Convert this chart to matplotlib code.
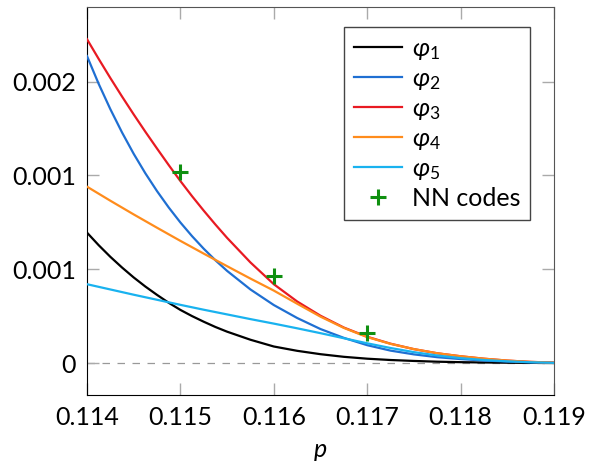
import numpy as np
import matplotlib
matplotlib.use('Agg')
import matplotlib.pyplot as plt

plt.rcParams['font.family'] = ['Lato', 'DejaVu Sans']
plt.rcParams['mathtext.fontset'] = 'custom'
plt.rcParams['mathtext.rm'] = 'Lato'
plt.rcParams['mathtext.it'] = 'Lato:italic'

# valores (en unidades de 1e-3)
p = [0.114000, 0.114125, 0.114250, 0.114375, 0.114500, 0.114625, 0.114750,
     0.114875, 0.115000, 0.115125, 0.115250, 0.115375, 0.115500, 0.11575,
     0.11600, 0.11625, 0.11650, 0.11675, 0.11700, 0.11725, 0.11750, 0.11775,
     0.11800, 0.11825, 0.11850, 0.11875, 0.11900]
phi1 = [0.695, 0.628, 0.566, 0.509, 0.456, 0.4075, 0.363,
        0.321, 0.283, 0.250, 0.220, 0.192, 0.167, 0.124,
        0.088, 0.065, 0.047, 0.033, 0.023, 0.016, 0.011, 0.007,
        0.0045, 0.0028, 0.0016, 0.0007, 0.0001]
phi2 = [1.636, 1.488, 1.353, 1.229, 1.115, 1.011, 0.916,
        0.829, 0.749, 0.676, 0.609, 0.5475, 0.491, 0.392,
        0.309, 0.240, 0.181, 0.134, 0.095, 0.066, 0.046, 0.031,
        0.021, 0.013, 0.008, 0.004, 0.001]
phi3 = [1.726, 1.621, 1.519, 1.4205, 1.325, 1.2325, 1.143,
        1.055, 0.970, 0.889, 0.812, 0.738, 0.667, 0.536,
        0.420, 0.328, 0.252, 0.189, 0.140, 0.103, 0.074, 0.052,
        0.036, 0.023, 0.013, 0.006, 0.002]
phi4 = [0.940, 0.9025, 0.865, 0.8285, 0.792, 0.7565, 0.721,
        0.686, 0.651, 0.617, 0.583, 0.5495, 0.516, 0.450,
        0.386, 0.316, 0.247, 0.187, 0.138, 0.102, 0.074, 0.052,
        0.036, 0.023, 0.013, 0.006, 0.002]
phi5 = [0.420, 0.406, 0.392, 0.378, 0.364, 0.3505, 0.337,
        0.3235, 0.310, 0.297, 0.284, 0.2715, 0.259, 0.234,
        0.210, 0.185, 0.159, 0.132, 0.105, 0.080, 0.058, 0.040,
        0.026, 0.016, 0.009, 0.004, 0.001]
nn_p = [0.115, 0.116, 0.117]
nn_val = [1.02, 0.464, 0.162]

series = [phi1, phi2, phi3, phi4, phi5]
nombres = [r'$\varphi_1$', r'$\varphi_2$', r'$\varphi_3$', r'$\varphi_4$', r'$\varphi_5$']
colores = ['#000000', '#1f6fd2', '#e81a22', '#ff8c1c', '#19b2ef']

fig = plt.figure(figsize=(5.89, 4.65), dpi=100)
ax = fig.add_axes([0.1477, 0.1505, 0.7929, 0.8345])

ax.axhline(0, color='#999999', lw=0.9, dashes=(6, 6), zorder=1)
for datos, nombre, color in zip(series, nombres, colores):
    ax.plot(p, np.array(datos) * 1e-3, color=color, lw=1.6, label=nombre, zorder=3)
ax.plot(nn_p, np.array(nn_val) * 1e-3, '+', color='#0f9010', ms=12, mew=2.2,
        label='NN codes', zorder=4)

ax.set_xlim(0.114, 0.119)
ax.set_ylim(-0.0001706, 0.0018977)
ax.set_xticks([0.114, 0.115, 0.116, 0.117, 0.118, 0.119])
ax.set_xticklabels(['0.114', '0.115', '0.116', '0.117', '0.118', '0.119'])
ax.set_yticks([0, 0.0005, 0.001, 0.0015])
ax.set_yticklabels(['0', '0.001', '0.001', '0.002'])
ax.tick_params(direction='in', length=8.5, width=1, color='#aaaaaa',
               labelsize=18, top=True, right=True, pad=8)
ax.set_xlabel(r'$p$', fontsize=18, labelpad=8)

for lado in ['top', 'right']:
    ax.spines[lado].set_color('#555555')
for lado in ['left', 'bottom']:
    ax.spines[lado].set_color('black')

ax.legend(loc='upper right', bbox_to_anchor=(0.9486, 0.9485), borderaxespad=0,
          fontsize=18, frameon=True, fancybox=False, edgecolor='#444444',
          framealpha=1, handlelength=1.9, handletextpad=0.4, labelspacing=0.2,
          borderpad=0.4)

plt.savefig('out.png', dpi=100)
